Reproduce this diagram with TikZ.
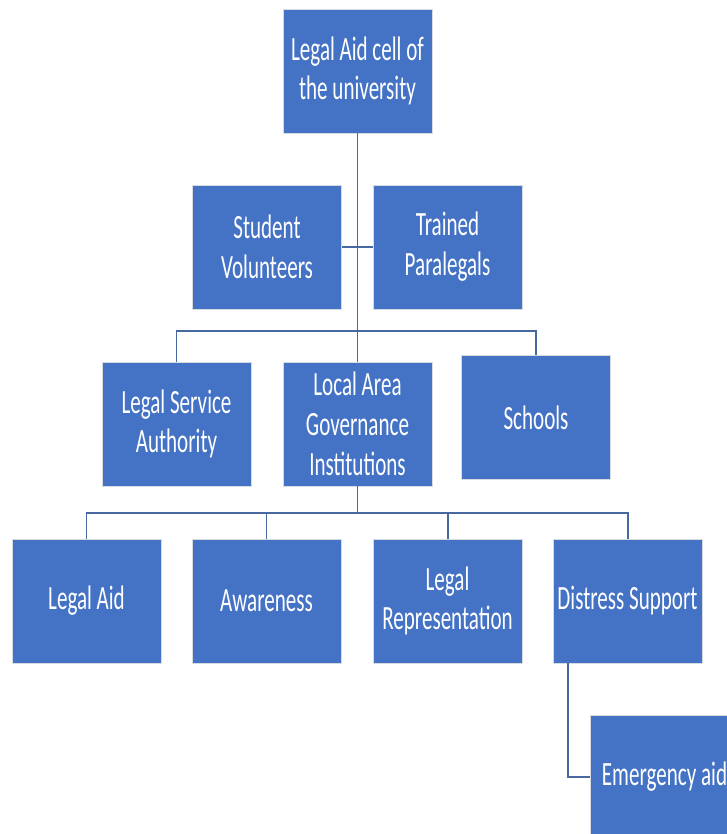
\documentclass[tikz,border=0pt]{standalone}
\usepackage{fontspec}
\newfontfamily\boxfont[FakeStretch=0.62]{Carlito}
\definecolor{boxblue}{RGB}{68,114,196}
\definecolor{linkblue}{RGB}{72,104,160}
\definecolor{rimgrey}{RGB}{215,218,224}
\tikzset{
  orgbox/.style={rectangle, fill=boxblue, draw=rimgrey, line width=0.8pt,
    minimum width=4.47cm, minimum height=3.72cm, inner sep=0pt,
    text=white, align=center, font=\boxfont\fontsize{29}{34}\selectfont},
  link/.style={draw=linkblue, line width=1.7pt}
}
\begin{document}
\begin{tikzpicture}[x=0.03cm, y=-0.03cm]
\useasboundingbox (0,0) rectangle (727,834);
\fill[white] (0,0) rectangle (727,834);
\clip (0,0) rectangle (727,834);
\node[orgbox] (cell) at (357.5,71){Legal Aid cell of\\the university};
\node[orgbox] (vol) at (267,247){Student\\Volunteers};
\node[orgbox] (para) at (447.5,247){Trained\\Paralegals};
\node[orgbox] (lsa) at (176.5,424){Legal Service\\Authority};
\node[orgbox] (lagi) at (357.5,424){Local Area\\Governance\\Institutions};
\node[orgbox] (school) at (536,417.5){Schools};
\node[orgbox] (aid) at (86.5,601){Legal Aid};
\node[orgbox] (aware) at (266.5,601){Awareness};
\node[orgbox] (repr) at (447.5,601){Legal\\Representation};
\node[orgbox] (distress) at (627.5,601){Distress Support};
\node[orgbox] (emerg) at (664.5,777){Emergency aid};
\coordinate (bus1) at (357.5,331);
\coordinate (bus2) at (357.5,513);
\draw[link](cell) -- (lagi);
\draw[link](vol) -- (para);
\draw[link](bus1) -| (lsa);
\draw[link](bus1) -| (school);
\draw[link](lagi) -- (bus2);
\draw[link](bus2) -| (aid);
\draw[link](bus2) -| (aware);
\draw[link](bus2) -| (repr);
\draw[link](bus2) -| (distress);
\draw[link]([xshift=0.45cm]distress.south west) |- (emerg.west);
\end{tikzpicture}
\end{document}
